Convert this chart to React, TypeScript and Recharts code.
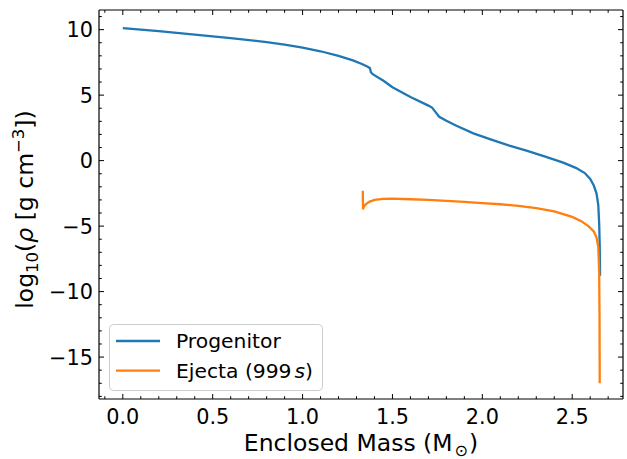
import { Legend, Line, LineChart, XAxis, YAxis } from "recharts";

// enclosed mass (Msun) and log10 density for the two profiles
const progenitorMass = [
  0, 0.2, 0.4, 0.6, 0.8, 0.9, 1.0, 1.1, 1.2, 1.28, 1.33, 1.365, 1.375, 1.38, 1.39, 1.45, 1.5, 1.6, 1.7,
  1.72, 1.74, 1.76, 1.8, 1.85, 1.95, 2.05, 2.15, 2.25, 2.35, 2.45, 2.52, 2.57, 2.6, 2.62, 2.635, 2.645, 2.65,
  2.653, 2.655
];
const progenitorRho = [
  10.12, 9.88, 9.62, 9.35, 9.05, 8.86, 8.63, 8.35, 8.0, 7.65, 7.38, 7.15, 7.05, 6.75, 6.6, 6.1, 5.6, 4.85, 4.2,
  4.05, 3.7, 3.35, 3.05, 2.7, 2.08, 1.6, 1.15, 0.75, 0.3, -0.15, -0.55, -0.95, -1.4, -1.9, -2.5, -3.4, -4.8,
  -6.5, -8.8
];

const ejectaMass = [
  1.335, 1.336, 1.34, 1.35, 1.37, 1.4, 1.45, 1.5, 1.6, 1.7, 1.8, 1.9, 2.0, 2.1, 2.2, 2.3, 2.4, 2.45, 2.5, 2.55,
  2.59, 2.62, 2.635, 2.645, 2.65, 2.652, 2.653
];
const ejectaRho = [
  -2.3, -3.72, -3.55, -3.35, -3.15, -3.0, -2.92, -2.9, -2.95, -3.0, -3.07, -3.15, -3.25, -3.33, -3.45, -3.62,
  -3.88, -4.08, -4.3, -4.62, -5.0, -5.4, -5.85, -6.6, -8.5, -12, -17.0
];

const seriesNames = ["Progenitor", "Ejecta (999 s)"];

const xMajor = [0, 0.5, 1, 1.5, 2, 2.5];
const xMinor = [-0.1, 0.1, 0.2, 0.3, 0.4, 0.6, 0.7, 0.8, 0.9, 1.1, 1.2, 1.3, 1.4, 1.6, 1.7, 1.8, 1.9, 2.1, 2.2, 2.3, 2.4, 2.6, 2.7];
const yMajor = [-15, -10, -5, 0, 5, 10];
const yMinor = [-18, -17, -16, -14, -13, -12, -11, -9, -8, -7, -6, -4, -3, -2, -1, 1, 2, 3, 4, 6, 7, 8, 9, 11];

const xDomain = [-0.1325, 2.7825];
const yDomain = [-18.2, 11.5];

const progenitor = progenitorMass.map((m, i) => ({ m, v: progenitorRho[i] }));
const ejecta = ejectaMass.map((m, i) => ({ m, v: ejectaRho[i] }));

const xTicks = [...xMajor, ...xMinor].sort((a, b) => a - b);
const yTicks = [...yMajor, ...yMinor].sort((a, b) => a - b);

const FONT = "DejaVu Sans";
const TICK_FS = 20.8;
const LABEL_FS = 23.5;
const MAJOR = 5;
const MINOR = 2.8;

const fmtY = (v: number) => (v < 0 ? "\u2212" + Math.abs(v) : String(v));

function XTick(props: any) {
  const { x, y, payload, side } = props;
  const major = xMajor.includes(payload.value);
  const len = major ? MAJOR : MINOR;
  const dir = side === "top" ? 1 : -1;
  return (
    <g>
      <line x1={x} x2={x} y1={y} y2={y + dir * len} stroke="#000" strokeWidth={1} />
      {major && side === "bottom" ? (
        <text x={x} y={y + 25} textAnchor="middle" fontSize={TICK_FS} fontFamily={FONT} fill="#000">
          {payload.value.toFixed(1)}
        </text>
      ) : null}
    </g>
  );
}

function YTick(props: any) {
  const { x, y, payload, side } = props;
  const major = yMajor.includes(payload.value);
  const len = major ? MAJOR : MINOR;
  const dir = side === "left" ? 1 : -1;
  return (
    <g>
      <line x1={x} x2={x + dir * len} y1={y} y2={y} stroke="#000" strokeWidth={1} />
      {major && side === "left" ? (
        <text x={x - 6} y={y + 7.5} textAnchor="end" fontSize={TICK_FS} fontFamily={FONT} fill="#000">
          {fmtY(payload.value)}
        </text>
      ) : null}
    </g>
  );
}

function XLabel(props: any) {
  const { viewBox } = props;
  const cx = viewBox.x + viewBox.width / 2;
  return (
    <text x={cx} y={viewBox.y + 52} textAnchor="middle" fontSize={LABEL_FS} fontFamily={FONT} fill="#000">
      Enclosed Mass (M
      <tspan fontSize={16} dy={5} dx={2}>⊙</tspan>
      <tspan dy={-5} dx={1}>)</tspan>
    </text>
  );
}

function YLabel(props: any) {
  const { viewBox } = props;
  const cx = 33;
  const cy = viewBox.y + viewBox.height / 2 + 5;
  return (
    <text
      x={cx}
      y={cy}
      transform={`rotate(-90 ${cx} ${cy})`}
      textAnchor="middle"
      fontSize={LABEL_FS}
      fontFamily={FONT}
      fill="#000"
    >
      log
      <tspan fontSize={16.5} dy={5}>10</tspan>
      <tspan dy={-5}>(</tspan>
      <tspan fontStyle="italic">ρ</tspan>
      <tspan> [g cm</tspan>
      <tspan fontSize={16.5} dy={-9}>−3</tspan>
      <tspan dy={9}>])</tspan>
    </text>
  );
}

function LegendBox(props: any) {
  const items = [...(props.payload || [])]
    .filter((item: any) => seriesNames.includes(String(item.value)))
    .sort((a: any, b: any) => seriesNames.indexOf(String(a.value)) - seriesNames.indexOf(String(b.value)));
  return (
    <svg width={214} height={67} style={{ display: "block" }}>
      <rect x={0.5} y={0.5} width={213} height={66} rx={4} fill="rgba(255,255,255,0.8)" stroke="#cccccc" />
      {items.map((item: any, i: number) => {
        const cy = 17 + i * 29.6;
        const name = String(item.value);
        const italicS = name.endsWith(" s)");
        return (
          <g key={name}>
            <line x1={7} x2={51} y1={cy} y2={cy} stroke={item.color} strokeWidth={2.4} />
            <text x={67} y={cy + 7} fontSize={20.3} fontFamily={FONT} fill="#000">
              {italicS ? name.slice(0, -3) : name}
              {italicS ? (
                <>
                  <tspan dx={3} fontStyle="italic">s</tspan>
                  <tspan>)</tspan>
                </>
              ) : null}
            </text>
          </g>
        );
      })}
    </svg>
  );
}

export default function App() {
  return (
    <div style={{ position: "absolute", left: 0, top: 0, width: 627, height: 459, background: "#fff" }}>
      <LineChart width={627} height={459} margin={{ top: 9, right: 3, bottom: 0, left: 0 }}>
        <XAxis
          xAxisId="bottom"
          type="number"
          dataKey="m"
          orientation="bottom"
          domain={xDomain}
          allowDataOverflow
          ticks={xTicks}
          interval={0}
          height={60}
          tickSize={0}
          tickMargin={0}
          tickLine={false}
          axisLine={{ stroke: "#000", strokeWidth: 1.2 }}
          tick={<XTick side="bottom" />}
          label={<XLabel />}
        />
        <XAxis
          xAxisId="top"
          type="number"
          dataKey="m"
          orientation="top"
          domain={xDomain}
          allowDataOverflow
          ticks={xTicks}
          interval={0}
          height={1}
          tickSize={0}
          tickMargin={0}
          tickLine={false}
          axisLine={{ stroke: "#000", strokeWidth: 1.2 }}
          tick={<XTick side="top" />}
        />
        <YAxis
          yAxisId="left"
          type="number"
          orientation="left"
          domain={yDomain}
          allowDataOverflow
          ticks={yTicks}
          interval={0}
          width={99}
          tickSize={0}
          tickMargin={0}
          tickLine={false}
          axisLine={{ stroke: "#000", strokeWidth: 1.2 }}
          tick={<YTick side="left" />}
          label={<YLabel />}
        />
        <YAxis
          yAxisId="right"
          type="number"
          orientation="right"
          domain={yDomain}
          allowDataOverflow
          ticks={yTicks}
          interval={0}
          width={1}
          tickSize={0}
          tickMargin={0}
          tickLine={false}
          axisLine={{ stroke: "#000", strokeWidth: 1.2 }}
          tick={<YTick side="right" />}
        />
        {/* invisible copy so the top/right frame axes have a series attached */}
        <Line
          xAxisId="top"
          yAxisId="right"
          data={progenitor}
          dataKey="v"
          name="frame"
          stroke="none"
          dot={false}
          legendType="none"
          isAnimationActive={false}
        />
        <Line
          xAxisId="bottom"
          yAxisId="left"
          data={progenitor}
          dataKey="v"
          name={seriesNames[0]}
          type="linear"
          stroke="#1f77b4"
          strokeWidth={2.3}
          dot={false}
          isAnimationActive={false}
        />
        <Line
          xAxisId="bottom"
          yAxisId="left"
          data={ejecta}
          dataKey="v"
          name={seriesNames[1]}
          type="linear"
          stroke="#ff7f0e"
          strokeWidth={2.3}
          dot={false}
          isAnimationActive={false}
        />
        <Legend
          layout="vertical"
          verticalAlign="middle"
          align="center"
          content={<LegendBox />}
          wrapperStyle={{ left: 109, top: 323.5, width: 214, height: 67 }}
        />
      </LineChart>
    </div>
  );
}
